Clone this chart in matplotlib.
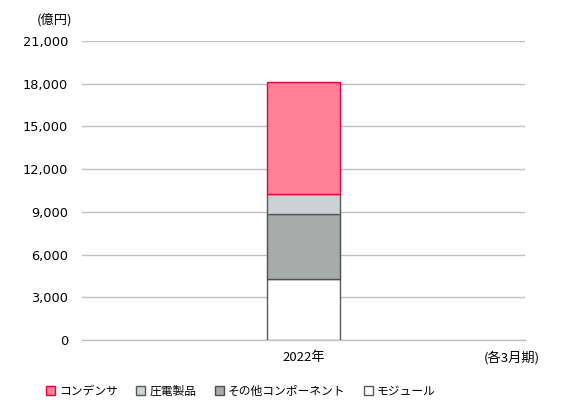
import matplotlib
matplotlib.use("Agg")
import matplotlib.pyplot as plt
from matplotlib.patches import Patch

plt.rcParams['font.family'] = ['Noto Sans CJK JP', 'DejaVu Sans']

categories = ["2022年"]
series_names = ["モジュール", "その他コンポーネント", "圧電製品", "コンデンサ"]
modules = [4260]
other_components = [4570]
piezo = [1400]
capacitors = [7870]
yticks = [0, 3000, 6000, 9000, 12000, 15000, 18000, 21000]

fills = ["#FFFFFF", "#A7ACAB", "#CCD1D5", "#FF8096"]
edges = ["#555A5A", "#4A4F4F", "#555A5A", "#E8003A"]

fig = plt.figure(figsize=(5.77, 4.17), dpi=100)
ax = fig.add_axes([82/577, 1-340/417, (525-82)/577, (340-41)/417])

x = list(range(len(categories)))
bottom = [0]*len(categories)
for name, vals, fc, ec in zip(series_names, [modules, other_components, piezo, capacitors], fills, edges):
    ax.bar(x, vals, bottom=bottom, width=0.167, color=fc, edgecolor=ec, linewidth=1.0, zorder=3)
    bottom = [b+v for b, v in zip(bottom, vals)]

ax.set_xlim(-0.5, 0.5)
ax.set_ylim(0, 21000)
ax.set_yticks(yticks)
ax.set_yticklabels([f"{v:,}" for v in yticks], family='DejaVu Sans', fontsize=9.3)
ax.set_xticks(x)
ax.set_xticklabels(categories, fontsize=9.5)
ax.tick_params(axis='y', length=0, pad=10)
ax.tick_params(axis='x', length=0, pad=8)
ax.grid(axis='y', color='#C0C0C0', linewidth=1, zorder=0)
ax.axhline(0, color='#C0C0C0', linewidth=1, zorder=1, clip_on=False)
for s in ax.spines.values():
    s.set_visible(False)

fig.text(55/577, 1-20/417, "(億円)", ha='center', va='center', fontsize=9.5)
fig.text(512/577, 1-358/417, "(各3月期)", ha='center', va='center', fontsize=9.5)

order = [3, 2, 1, 0]
handles = [Patch(facecolor=fills[i], edgecolor=edges[i], linewidth=1.0, label=series_names[i]) for i in order]
fig.legend(handles=handles, loc='center left', bbox_to_anchor=(46/577, 1-391/417), ncol=4,
           frameon=False, fontsize=8.5, handlelength=0.78, handleheight=0.78, handletextpad=0.34,
           columnspacing=1.55, borderaxespad=0, borderpad=0)

fig.savefig("out.png", dpi=100)
